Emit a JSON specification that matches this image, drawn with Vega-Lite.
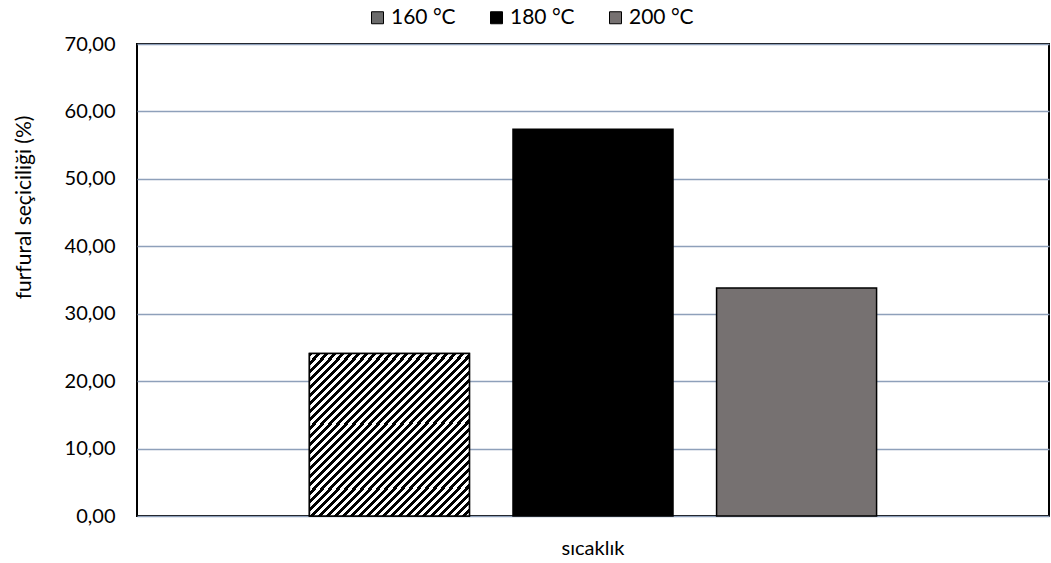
{
  "$schema": "https://vega.github.io/schema/vega-lite/v6.json",
  "width": 912,
  "height": 472,
  "autosize": "none",
  "padding": {"left": 137, "top": 44, "right": 2, "bottom": 47},
  "config": {
    "locale": {"number": {"decimal": ",", "thousands": ".", "grouping": [3], "currency": ["", " €"]}},
    "font": "Lato",
    "view": {"stroke": "#000000", "strokeWidth": 2},
    "axis": {"labelFont": "Lato", "labelFontSize": 20, "labelColor": "#000000", "titleFont": "Lato", "titleFontSize": 21, "titleFontWeight": "normal", "titleColor": "#000000"}
  },
  "data": {"values": [
    {"kategori": "sıcaklık", "sicaklik": "160 °C", "secicilik": 24.1},
    {"kategori": "sıcaklık", "sicaklik": "180 °C", "secicilik": 57.35},
    {"kategori": "sıcaklık", "sicaklik": "200 °C", "secicilik": 33.8}
  ]},
  "encoding": {
    "x": {"field": "kategori", "type": "nominal", "scale": {"paddingInner": 0, "paddingOuter": 0.304},
      "axis": {"title": null, "labelAngle": 0, "ticks": false, "domain": false, "labelPadding": 22}},
    "xOffset": {"field": "sicaklik", "type": "nominal", "scale": {"paddingInner": 0.214, "paddingOuter": 0}},
    "y": {"field": "secicilik", "type": "quantitative", "scale": {"domain": [0, 70], "nice": false},
      "axis": {"title": "furfural seçiciliği (%)", "values": [0, 10, 20, 30, 40, 50, 60, 70], "format": ".2f",
        "gridColor": "#8EA0BA", "gridWidth": 1.5, "domain": false, "ticks": false, "labelPadding": 22, "titlePadding": 30, "titleY": 163}}
  },
  "layer": [
    {
      "mark": {"type": "bar", "stroke": "#000000", "strokeWidth": 1.5},
      "encoding": {
        "color": {"field": "sicaklik", "type": "nominal",
          "scale": {"range": ["#6b6b6b", "#000000", "#767171"]},
          "legend": {"title": null, "orient": "none", "direction": "horizontal", "legendX": 230, "legendY": -37,
            "symbolType": "square", "symbolSize": 144, "symbolStrokeColor": "#000000", "symbolStrokeWidth": 1,
            "labelFont": "Lato", "labelFontSize": 21, "labelColor": "#000000", "labelOffset": 3, "columnPadding": 30}}
      }
    },
    {
      "transform": [{"filter": "datum.sicaklik === '160 °C'"}],
      "mark": {"type": "bar", "stroke": "#000000", "strokeWidth": 1.5,
        "fill": {"gradient": "linear", "x1": 0, "y1": 0, "x2": 1, "y2": 1, "stops": [
          {"offset": 0, "color": "#000"},
          {"offset": 0.0125, "color": "#000"}, {"offset": 0.0125, "color": "#fff"},
          {"offset": 0.025, "color": "#fff"}, {"offset": 0.025, "color": "#000"},
          {"offset": 0.0375, "color": "#000"}, {"offset": 0.0375, "color": "#fff"},
          {"offset": 0.05, "color": "#fff"}, {"offset": 0.05, "color": "#000"},
          {"offset": 0.0625, "color": "#000"}, {"offset": 0.0625, "color": "#fff"},
          {"offset": 0.075, "color": "#fff"}, {"offset": 0.075, "color": "#000"},
          {"offset": 0.0875, "color": "#000"}, {"offset": 0.0875, "color": "#fff"},
          {"offset": 0.1, "color": "#fff"}, {"offset": 0.1, "color": "#000"},
          {"offset": 0.1125, "color": "#000"}, {"offset": 0.1125, "color": "#fff"},
          {"offset": 0.125, "color": "#fff"}, {"offset": 0.125, "color": "#000"},
          {"offset": 0.1375, "color": "#000"}, {"offset": 0.1375, "color": "#fff"},
          {"offset": 0.15, "color": "#fff"}, {"offset": 0.15, "color": "#000"},
          {"offset": 0.1625, "color": "#000"}, {"offset": 0.1625, "color": "#fff"},
          {"offset": 0.175, "color": "#fff"}, {"offset": 0.175, "color": "#000"},
          {"offset": 0.1875, "color": "#000"}, {"offset": 0.1875, "color": "#fff"},
          {"offset": 0.2, "color": "#fff"}, {"offset": 0.2, "color": "#000"},
          {"offset": 0.2125, "color": "#000"}, {"offset": 0.2125, "color": "#fff"},
          {"offset": 0.225, "color": "#fff"}, {"offset": 0.225, "color": "#000"},
          {"offset": 0.2375, "color": "#000"}, {"offset": 0.2375, "color": "#fff"},
          {"offset": 0.25, "color": "#fff"}, {"offset": 0.25, "color": "#000"},
          {"offset": 0.2625, "color": "#000"}, {"offset": 0.2625, "color": "#fff"},
          {"offset": 0.275, "color": "#fff"}, {"offset": 0.275, "color": "#000"},
          {"offset": 0.2875, "color": "#000"}, {"offset": 0.2875, "color": "#fff"},
          {"offset": 0.3, "color": "#fff"}, {"offset": 0.3, "color": "#000"},
          {"offset": 0.3125, "color": "#000"}, {"offset": 0.3125, "color": "#fff"},
          {"offset": 0.325, "color": "#fff"}, {"offset": 0.325, "color": "#000"},
          {"offset": 0.3375, "color": "#000"}, {"offset": 0.3375, "color": "#fff"},
          {"offset": 0.35, "color": "#fff"}, {"offset": 0.35, "color": "#000"},
          {"offset": 0.3625, "color": "#000"}, {"offset": 0.3625, "color": "#fff"},
          {"offset": 0.375, "color": "#fff"}, {"offset": 0.375, "color": "#000"},
          {"offset": 0.3875, "color": "#000"}, {"offset": 0.3875, "color": "#fff"},
          {"offset": 0.4, "color": "#fff"}, {"offset": 0.4, "color": "#000"},
          {"offset": 0.4125, "color": "#000"}, {"offset": 0.4125, "color": "#fff"},
          {"offset": 0.425, "color": "#fff"}, {"offset": 0.425, "color": "#000"},
          {"offset": 0.4375, "color": "#000"}, {"offset": 0.4375, "color": "#fff"},
          {"offset": 0.45, "color": "#fff"}, {"offset": 0.45, "color": "#000"},
          {"offset": 0.4625, "color": "#000"}, {"offset": 0.4625, "color": "#fff"},
          {"offset": 0.475, "color": "#fff"}, {"offset": 0.475, "color": "#000"},
          {"offset": 0.4875, "color": "#000"}, {"offset": 0.4875, "color": "#fff"},
          {"offset": 0.5, "color": "#fff"}, {"offset": 0.5, "color": "#000"},
          {"offset": 0.5125, "color": "#000"}, {"offset": 0.5125, "color": "#fff"},
          {"offset": 0.525, "color": "#fff"}, {"offset": 0.525, "color": "#000"},
          {"offset": 0.5375, "color": "#000"}, {"offset": 0.5375, "color": "#fff"},
          {"offset": 0.55, "color": "#fff"}, {"offset": 0.55, "color": "#000"},
          {"offset": 0.5625, "color": "#000"}, {"offset": 0.5625, "color": "#fff"},
          {"offset": 0.575, "color": "#fff"}, {"offset": 0.575, "color": "#000"},
          {"offset": 0.5875, "color": "#000"}, {"offset": 0.5875, "color": "#fff"},
          {"offset": 0.6, "color": "#fff"}, {"offset": 0.6, "color": "#000"},
          {"offset": 0.6125, "color": "#000"}, {"offset": 0.6125, "color": "#fff"},
          {"offset": 0.625, "color": "#fff"}, {"offset": 0.625, "color": "#000"},
          {"offset": 0.6375, "color": "#000"}, {"offset": 0.6375, "color": "#fff"},
          {"offset": 0.65, "color": "#fff"}, {"offset": 0.65, "color": "#000"},
          {"offset": 0.6625, "color": "#000"}, {"offset": 0.6625, "color": "#fff"},
          {"offset": 0.675, "color": "#fff"}, {"offset": 0.675, "color": "#000"},
          {"offset": 0.6875, "color": "#000"}, {"offset": 0.6875, "color": "#fff"},
          {"offset": 0.7, "color": "#fff"}, {"offset": 0.7, "color": "#000"},
          {"offset": 0.7125, "color": "#000"}, {"offset": 0.7125, "color": "#fff"},
          {"offset": 0.725, "color": "#fff"}, {"offset": 0.725, "color": "#000"},
          {"offset": 0.7375, "color": "#000"}, {"offset": 0.7375, "color": "#fff"},
          {"offset": 0.75, "color": "#fff"}, {"offset": 0.75, "color": "#000"},
          {"offset": 0.7625, "color": "#000"}, {"offset": 0.7625, "color": "#fff"},
          {"offset": 0.775, "color": "#fff"}, {"offset": 0.775, "color": "#000"},
          {"offset": 0.7875, "color": "#000"}, {"offset": 0.7875, "color": "#fff"},
          {"offset": 0.8, "color": "#fff"}, {"offset": 0.8, "color": "#000"},
          {"offset": 0.8125, "color": "#000"}, {"offset": 0.8125, "color": "#fff"},
          {"offset": 0.825, "color": "#fff"}, {"offset": 0.825, "color": "#000"},
          {"offset": 0.8375, "color": "#000"}, {"offset": 0.8375, "color": "#fff"},
          {"offset": 0.85, "color": "#fff"}, {"offset": 0.85, "color": "#000"},
          {"offset": 0.8625, "color": "#000"}, {"offset": 0.8625, "color": "#fff"},
          {"offset": 0.875, "color": "#fff"}, {"offset": 0.875, "color": "#000"},
          {"offset": 0.8875, "color": "#000"}, {"offset": 0.8875, "color": "#fff"},
          {"offset": 0.9, "color": "#fff"}, {"offset": 0.9, "color": "#000"},
          {"offset": 0.9125, "color": "#000"}, {"offset": 0.9125, "color": "#fff"},
          {"offset": 0.925, "color": "#fff"}, {"offset": 0.925, "color": "#000"},
          {"offset": 0.9375, "color": "#000"}, {"offset": 0.9375, "color": "#fff"},
          {"offset": 0.95, "color": "#fff"}, {"offset": 0.95, "color": "#000"},
          {"offset": 0.9625, "color": "#000"}, {"offset": 0.9625, "color": "#fff"},
          {"offset": 0.975, "color": "#fff"}, {"offset": 0.975, "color": "#000"},
          {"offset": 0.9875, "color": "#000"}, {"offset": 0.9875, "color": "#fff"},
          {"offset": 1, "color": "#fff"}
        ]}}
    }
  ]
}
